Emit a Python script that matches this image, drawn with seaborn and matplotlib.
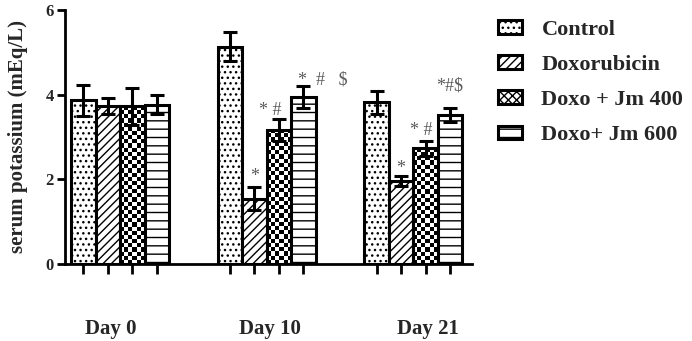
import numpy as np
import pandas as pd
import matplotlib
matplotlib.use("Agg")
import matplotlib.pyplot as plt
import matplotlib.patches as mpatches
import seaborn as sns

# === Daten ===
days = ["Day 0", "Day 10", "Day 21"]
groups = ["Control", "Doxorubicin", "Doxo + Jm 400", "Doxo+ Jm 600"]

control = [3.86, 5.13, 3.82]
doxorubicin = [3.72, 1.54, 1.96]
jm400 = [3.72, 3.17, 2.73]
jm600 = [3.76, 3.95, 3.52]

control_err = [0.37, 0.34, 0.27]
doxorubicin_err = [0.19, 0.27, 0.12]
jm400_err = [0.43, 0.26, 0.18]
jm600_err = [0.23, 0.26, 0.16]

# significance marks (day, group, text)
sig_marks = [
    ("Day 10", "Doxorubicin", "*"),
    ("Day 10", "Doxo + Jm 400", "* #"),
    ("Day 10", "Doxo+ Jm 600", "*  #   $"),
    ("Day 21", "Doxorubicin", "*"),
    ("Day 21", "Doxo + Jm 400", "* #"),
    ("Day 21", "Doxo+ Jm 600", "*#$"),
]
# offsets of the marks in points (dx, dy) - styling only
sig_offsets = [(0, 8), (-6, 6), (14, 4), (0, 5), (-3, 7), (0, 16)]
# shift of the day labels against the group centre (data units) - styling only
label_shift = [-0.06, 0.022, 0.10]

values = [control, doxorubicin, jm400, jm600]
errors = [control_err, doxorubicin_err, jm400_err, jm600_err]

df = pd.DataFrame({
    "day": days * len(groups),
    "group": [g for g in groups for _ in days],
    "value": [v for vals in values for v in vals],
    "err": [e for errs in errors for e in errs],
})

# === Plot ===
sns.set_style("ticks")
plt.rcParams["font.family"] = ["Liberation Serif", "DejaVu Serif"]
plt.rcParams["hatch.linewidth"] = 1.0

fig, ax = plt.subplots(figsize=(6.92, 3.41), dpi=100)
fig.subplots_adjust(left=0.094, right=0.682, bottom=0.226, top=0.971)

sns.barplot(data=df, x="day", y="value", hue="group", order=days, hue_order=groups,
            palette=["white"] * 4, edgecolor="black", linewidth=2.2,
            width=0.669, gap=0, errorbar=None, legend=False, ax=ax)

ax.set_xlim(-0.375, 2.40)
ax.set_ylim(0, 6)

hatches = ["...", "////", None, "--"]
centers = {}
for gi, (cont, h) in enumerate(zip(ax.containers, hatches)):
    for di, patch in enumerate(cont.patches):
        patch.set_zorder(2)
        if h:
            patch.set_hatch(h)
        centers[(days[di], groups[gi])] = (patch.get_x() + patch.get_width() / 2,
                                          patch.get_height())

# Checkerboard for Doxo + Jm 400
sq = 4.2  # square size in pixels
for patch in ax.containers[2].patches:
    x0, w = patch.get_x(), patch.get_width()
    y0, h = patch.get_y(), patch.get_height()
    p0 = ax.transData.transform((x0, y0))
    p1 = ax.transData.transform((x0 + w, y0 + h))
    nc = max(1, int(round((p1[0] - p0[0]) / sq)))
    nr = max(1, int(round((p1[1] - p0[1]) / sq)))
    board = np.add.outer(np.arange(nr), np.arange(nc)) % 2
    ax.imshow(board, extent=(x0, x0 + w, y0, y0 + h), cmap="gray", origin="lower",
              interpolation="nearest", aspect="auto", zorder=1.5, clip_path=patch)
    patch.set_facecolor("none")

ax.set_xlim(-0.375, 2.40)
ax.set_ylim(0, 6)

# error bars
for gi, g in enumerate(groups):
    xs = [centers[(d, g)][0] for d in days]
    ax.errorbar(xs, values[gi], yerr=errors[gi], fmt="none", ecolor="black",
                elinewidth=2.2, capsize=5, capthick=2.2, zorder=3)

# significance marks
for (d, g, txt), (dx, dy) in zip(sig_marks, sig_offsets):
    cx, top = centers[(d, g)]
    err = errors[groups.index(g)][days.index(d)]
    ax.annotate(txt, xy=(cx, top + err), xytext=(dx, dy), textcoords="offset points",
                ha="center", va="center", fontsize=13, color="#5a5a5a", zorder=4)

# axes styling
sns.despine(ax=ax)
for side in ["left", "bottom"]:
    ax.spines[side].set_linewidth(2)
    ax.spines[side].set_color("black")

ax.set_yticks([0, 2, 4, 6])
ax.tick_params(axis="y", length=6, width=2, labelsize=12, pad=2, color="black")
for lab in ax.get_yticklabels():
    lab.set_fontweight("bold")

ax.set_xticks([i + s for i, s in enumerate(label_shift)])
ax.set_xticklabels(days, fontsize=15, fontweight="bold")
ax.tick_params(axis="x", which="major", length=0, pad=40)
bar_x = sorted(c[0] for c in centers.values())
ax.set_xticks(bar_x, minor=True)
ax.tick_params(axis="x", which="minor", length=7, width=2, color="black")

ax.set_xlabel("")
ax.set_ylabel("serum potassium (mEq/L)", fontsize=15, fontweight="bold", labelpad=13)

# legend
handles = [
    mpatches.Patch(facecolor="white", edgecolor="black", linewidth=2.2, hatch="..."),
    mpatches.Patch(facecolor="white", edgecolor="black", linewidth=2.2, hatch="////"),
    mpatches.Patch(facecolor="white", edgecolor="black", linewidth=2.2, hatch="xxxx"),
    mpatches.Patch(facecolor="white", edgecolor="black", linewidth=2.2, hatch="--"),
]
leg = ax.legend(handles, groups, loc="upper left", bbox_to_anchor=(1.015, 1.04),
                frameon=False, handlelength=1.1, handleheight=0.55, labelspacing=0.68,
                handletextpad=0.85, prop={"size": 16, "weight": "bold"})

fig.savefig("out.png", dpi=100)
